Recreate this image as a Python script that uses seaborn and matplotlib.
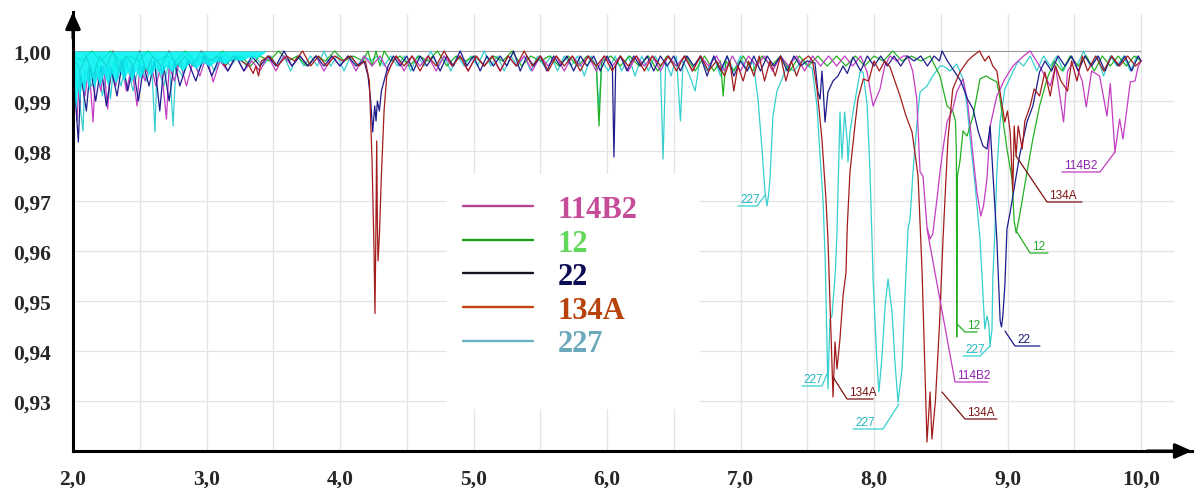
import matplotlib
matplotlib.use("Agg")
import matplotlib.pyplot as plt
import pandas as pd
import seaborn as sns
from matplotlib.lines import Line2D
from matplotlib.patches import Rectangle
from matplotlib.ticker import FuncFormatter, FixedLocator

sns.set_style("white")
plt.rcParams["font.family"] = ["Liberation Serif", "DejaVu Serif"]

# ---- transmittance spectra, (wavelength um, transmittance) ----
r134a = [
    (2.00, 0.999), (2.05, 0.996), (2.10, 0.999), (2.15, 0.995), (2.20, 0.999), (2.25, 0.997),
    (2.30, 1.0), (2.35, 0.996), (2.40, 0.999), (2.45, 0.997), (2.50, 1.0), (2.55, 0.996),
    (2.60, 0.999), (2.66, 0.997), (2.72, 1.0), (2.78, 0.997), (2.84, 0.999), (2.90, 0.997),
    (2.96, 1.0), (3.02, 0.998), (3.08, 0.999), (3.14, 0.997), (3.20, 0.999), (3.26, 0.998),
    (3.32, 0.997), (3.35, 0.9955), (3.37, 0.997), (3.39, 0.995), (3.41, 0.998), (3.47, 0.999),
    (3.53, 0.997), (3.60, 0.999), (3.66, 0.998), (3.72, 1.0), (3.78, 0.997), (3.84, 0.999),
    (3.90, 0.997), (3.96, 0.999), (4.02, 0.998), (4.08, 0.999), (4.14, 0.997), (4.19, 0.998),
    (4.22, 0.994), (4.24, 0.978), (4.255, 0.960), (4.262, 0.9475), (4.268, 0.962), (4.275, 0.982),
    (4.28, 0.965), (4.285, 0.958), (4.295, 0.963), (4.31, 0.975), (4.33, 0.988), (4.35, 0.995),
    (4.38, 0.997), (4.42, 0.999), (4.48, 0.997), (4.54, 0.999), (4.60, 0.996), (4.66, 0.999),
    (4.72, 0.997), (4.78, 1.0), (4.84, 0.997), (4.90, 0.999), (4.96, 0.996), (5.02, 0.999),
    (5.08, 0.997), (5.14, 0.999), (5.20, 0.996), (5.26, 0.999), (5.32, 0.997), (5.38, 1.0),
    (5.44, 0.997), (5.50, 0.999), (5.56, 0.996), (5.62, 0.999), (5.68, 0.997), (5.74, 0.999),
    (5.80, 0.996), (5.86, 0.999), (5.92, 0.997), (5.98, 0.999), (6.04, 0.996), (6.10, 0.999),
    (6.16, 0.997), (6.22, 0.999), (6.28, 0.996), (6.34, 0.999), (6.40, 0.997), (6.46, 0.999),
    (6.52, 0.996), (6.58, 0.999), (6.64, 0.996), (6.70, 0.999), (6.76, 0.996), (6.82, 0.998),
    (6.88, 0.995), (6.92, 0.998), (6.95, 0.992), (6.98, 0.997), (7.02, 0.994), (7.06, 0.998),
    (7.10, 0.995), (7.14, 0.999), (7.18, 0.994), (7.22, 0.998), (7.26, 0.995), (7.30, 0.999),
    (7.34, 0.994), (7.38, 0.998), (7.42, 0.995), (7.46, 0.998), (7.51, 0.999), (7.54, 0.998),
    (7.573, 0.9924), (7.61, 0.9824), (7.64, 0.9704),
    (7.655, 0.9624), (7.693, 0.9308), (7.708, 0.9418), (7.723, 0.9364), (7.745, 0.9424),
    (7.768, 0.951), (7.79, 0.9556), (7.80, 0.965), (7.82, 0.9758), (7.86, 0.9858), (7.88, 0.9904),
    (7.92, 0.9944), (7.96, 0.994), (8.00, 0.998), (8.04, 0.996), (8.08, 0.998), (8.12, 0.9968),
    (8.195, 0.991), (8.24, 0.987), (8.285, 0.9838), (8.33, 0.975), (8.36, 0.956), (8.397, 0.9218),
    (8.42, 0.9318), (8.434, 0.9224), (8.46, 0.930), (8.49, 0.945), (8.517, 0.9624), (8.554, 0.9824),
    (8.59, 0.9924), (8.644, 0.9958), (8.70, 0.998), (8.74, 0.999), (8.79, 1.0), (8.83, 0.998),
    (8.86, 0.999), (8.89, 0.997), (8.92, 0.996), (8.96, 0.989), (8.98, 0.9858), (9.00, 0.988),
    (9.02, 0.9838), (9.04, 0.972), (9.05, 0.985), (9.064, 0.979), (9.08, 0.985), (9.11, 0.9804),
    (9.13, 0.986), (9.17, 0.989), (9.20, 0.9924), (9.24, 0.991), (9.28, 0.9958), (9.32, 0.991),
    (9.36, 0.997), (9.40, 0.994), (9.45, 0.992), (9.48, 0.998), (9.52, 0.994), (9.56, 0.999),
    (9.60, 0.996), (9.66, 0.999), (9.72, 0.996), (9.78, 0.999), (9.84, 0.997), (9.90, 0.999),
    (9.96, 0.997), (10.0, 0.998),
]

r227 = [
    (2.00, 0.999), (2.04, 0.992), (2.075, 0.984), (2.09, 0.996), (2.14, 0.993), (2.18, 0.998),
    (2.22, 0.991), (2.26, 0.997), (2.28, 0.9904), (2.31, 0.998), (2.36, 0.993), (2.40, 0.998),
    (2.45, 0.992), (2.50, 0.998), (2.55, 0.994), (2.59, 0.997), (2.614, 0.9838), (2.63, 0.997),
    (2.68, 0.993), (2.72, 0.998), (2.75, 0.985), (2.77, 0.997), (2.82, 0.995), (2.88, 0.999),
    (2.94, 0.996), (3.00, 0.999), (3.06, 0.996), (3.12, 0.999), (3.18, 0.997), (3.24, 0.999),
    (3.30, 0.997), (3.36, 0.999), (3.42, 0.997), (3.48, 0.999), (3.53, 0.997), (3.58, 0.999),
    (3.63, 0.996), (3.68, 0.999), (3.73, 0.997), (3.78, 0.999), (3.83, 0.997), (3.88, 1.0),
    (3.93, 0.997), (3.98, 0.999), (4.03, 0.996), (4.08, 0.999), (4.13, 0.997), (4.18, 0.999),
    (4.23, 0.998), (4.28, 0.999), (4.33, 0.997), (4.38, 0.999), (4.43, 0.997), (4.48, 0.999),
    (4.53, 0.996), (4.58, 0.999), (4.63, 0.997), (4.68, 1.0), (4.73, 0.997), (4.78, 0.999),
    (4.83, 0.996), (4.88, 0.999), (4.93, 0.997), (4.98, 0.999), (5.03, 0.997), (5.08, 1.0),
    (5.13, 0.997), (5.18, 0.999), (5.23, 0.996), (5.28, 0.999), (5.33, 0.997), (5.38, 0.999),
    (5.43, 0.996), (5.48, 0.999), (5.53, 0.997), (5.58, 0.999), (5.63, 0.996), (5.68, 0.999),
    (5.73, 0.997), (5.78, 0.999), (5.83, 0.995), (5.88, 0.999), (5.92, 0.997), (5.94, 0.988),
    (5.96, 0.998), (6.01, 0.996), (6.06, 0.999), (6.11, 0.996), (6.16, 0.999), (6.21, 0.995),
    (6.26, 0.999), (6.31, 0.996), (6.36, 0.999), (6.40, 0.997), (6.42, 0.9784), (6.44, 0.998),
    (6.48, 0.995), (6.52, 0.999), (6.55, 0.986), (6.57, 0.998), (6.62, 0.995), (6.66, 0.992),
    (6.70, 0.999), (6.75, 0.996), (6.80, 0.999), (6.85, 0.995), (6.90, 0.999), (6.95, 0.996),
    (7.00, 0.999), (7.05, 0.996), (7.094, 0.998), (7.131, 0.9904), (7.161, 0.9804), (7.184, 0.9718),
    (7.199, 0.969), (7.21, 0.9712), (7.221, 0.9744), (7.243, 0.987), (7.273, 0.992), (7.311, 0.9944),
    (7.348, 0.997), (7.40, 0.996), (7.46, 0.998), (7.50, 0.997), (7.536, 0.9966), (7.573, 0.989),
    (7.596, 0.979), (7.618, 0.9704), (7.635, 0.9578), (7.648, 0.941), (7.655, 0.9324), (7.67, 0.9464),
    (7.685, 0.947), (7.71, 0.9556), (7.723, 0.9638), (7.745, 0.9878), (7.76, 0.9784), (7.78, 0.9878),
    (7.80, 0.9818), (7.805, 0.9778), (7.82, 0.9838), (7.843, 0.9878), (7.873, 0.9924), (7.895, 0.9958),
    (7.918, 0.9958), (7.948, 0.9894), (7.97, 0.9758), (7.985, 0.9624), (7.993, 0.9544), (8.022, 0.9378),
    (8.037, 0.9318), (8.06, 0.939), (8.083, 0.949), (8.105, 0.9544), (8.135, 0.9478), (8.157, 0.9378),
    (8.18, 0.9298), (8.21, 0.9364), (8.232, 0.951), (8.255, 0.9644), (8.27, 0.9664), (8.292, 0.9758),
    (8.322, 0.9858), (8.345, 0.9918), (8.397, 0.993), (8.44, 0.995), (8.494, 0.997), (8.52, 0.997),
    (8.57, 0.996), (8.62, 0.9974), (8.667, 0.9944), (8.697, 0.989), (8.72, 0.9824), (8.76, 0.9724),
    (8.794, 0.9624), (8.83, 0.9444), (8.846, 0.947), (8.86, 0.9455), (8.869, 0.941), (8.884, 0.9444),
    (8.89, 0.9544), (8.906, 0.9644), (8.92, 0.9758), (8.944, 0.9858), (8.98, 0.9924), (9.04, 0.9958),
    (9.08, 0.998), (9.12, 0.997), (9.17, 0.999), (9.22, 0.996), (9.27, 0.999), (9.32, 0.997),
    (9.37, 0.999), (9.42, 0.996), (9.47, 0.999), (9.52, 0.997), (9.57, 1.0), (9.62, 0.997),
    (9.67, 0.999), (9.72, 0.995), (9.77, 0.999), (9.82, 0.997), (9.87, 0.999), (9.92, 0.996),
    (9.97, 0.999), (10.0, 0.998),
]

# dense fine structure of R227 in the overtone region, lower envelope
r227_band = [
    (2.00, 0.986), (2.01, 0.991), (2.02, 0.988), (2.035, 0.9925), (2.05, 0.990), (2.065, 0.994),
    (2.08, 0.9915), (2.10, 0.9945), (2.12, 0.992), (2.14, 0.995), (2.16, 0.9925), (2.18, 0.9948),
    (2.20, 0.993), (2.23, 0.9955), (2.26, 0.9932), (2.29, 0.9955), (2.32, 0.9935), (2.35, 0.996),
    (2.38, 0.994), (2.41, 0.996), (2.44, 0.9938), (2.47, 0.9962), (2.50, 0.9945), (2.54, 0.9965),
    (2.58, 0.995), (2.62, 0.9968), (2.66, 0.9952), (2.70, 0.997), (2.74, 0.9958), (2.78, 0.9973),
    (2.82, 0.996), (2.87, 0.9976), (2.92, 0.9965), (2.97, 0.9978), (3.02, 0.997), (3.08, 0.998),
    (3.14, 0.9974), (3.20, 0.9984), (3.26, 0.998), (3.32, 0.9988), (3.38, 0.9986), (3.45, 1.0),
]

r22 = [
    (2.00, 0.998), (2.02, 0.990), (2.04, 0.9818), (2.06, 0.995), (2.10, 0.988), (2.13, 0.997),
    (2.17, 0.990), (2.21, 0.997), (2.25, 0.989), (2.29, 0.996), (2.33, 0.991), (2.37, 0.998),
    (2.41, 0.992), (2.45, 0.997), (2.49, 0.990), (2.53, 0.997), (2.57, 0.993), (2.61, 0.998),
    (2.65, 0.988), (2.68, 0.997), (2.72, 0.990), (2.76, 0.998), (2.80, 0.993), (2.86, 0.998),
    (2.92, 0.994), (2.98, 0.999), (3.04, 0.995), (3.10, 0.999), (3.16, 0.996), (3.22, 0.999),
    (3.28, 0.996), (3.34, 0.999), (3.40, 0.997), (3.46, 0.999), (3.52, 0.997), (3.58, 1.0),
    (3.64, 0.997), (3.70, 0.999), (3.76, 0.997), (3.82, 0.999), (3.88, 0.997), (3.94, 0.999),
    (4.00, 0.997), (4.06, 0.999), (4.12, 0.997), (4.18, 0.998), (4.21, 0.995), (4.23, 0.990),
    (4.245, 0.9838), (4.26, 0.989), (4.27, 0.986), (4.28, 0.990), (4.295, 0.988), (4.31, 0.992),
    (4.33, 0.994), (4.36, 0.997), (4.40, 0.999), (4.45, 0.997), (4.50, 0.999), (4.55, 0.996),
    (4.60, 0.999), (4.65, 0.997), (4.70, 0.999), (4.75, 0.996), (4.80, 0.999), (4.85, 0.997),
    (4.90, 1.0), (4.95, 0.997), (5.00, 0.999), (5.05, 0.996), (5.10, 0.999), (5.15, 0.997),
    (5.20, 0.999), (5.25, 0.997), (5.30, 1.0), (5.35, 0.996), (5.40, 0.999), (5.45, 0.997),
    (5.50, 0.999), (5.55, 0.996), (5.60, 0.999), (5.65, 0.997), (5.70, 0.999), (5.75, 0.996),
    (5.80, 0.999), (5.85, 0.997), (5.90, 0.999), (5.95, 0.996), (6.00, 0.999), (6.04, 0.997),
    (6.052, 0.9788), (6.065, 0.997), (6.10, 0.999), (6.15, 0.996), (6.20, 0.999), (6.25, 0.997),
    (6.30, 0.999), (6.35, 0.996), (6.40, 0.999), (6.45, 0.997), (6.50, 0.999), (6.55, 0.996),
    (6.60, 0.999), (6.65, 0.997), (6.70, 0.999), (6.75, 0.995), (6.80, 0.999), (6.85, 0.996),
    (6.90, 0.999), (6.95, 0.995), (7.00, 0.998), (7.05, 0.996), (7.10, 0.999), (7.15, 0.996),
    (7.20, 0.999), (7.25, 0.997), (7.30, 0.999), (7.35, 0.996), (7.40, 0.999), (7.45, 0.997),
    (7.50, 0.998), (7.558, 0.9976), (7.58, 0.9918), (7.596, 0.9904), (7.61, 0.996), (7.618, 0.993),
    (7.633, 0.9858), (7.655, 0.9918), (7.693, 0.994), (7.73, 0.995), (7.768, 0.997), (7.80, 0.9955),
    (7.843, 0.9988), (7.90, 0.996), (7.95, 0.999), (8.00, 0.997), (8.05, 0.999), (8.10, 0.997),
    (8.15, 0.999), (8.20, 0.997), (8.25, 0.999), (8.30, 0.998), (8.35, 0.999), (8.40, 0.997),
    (8.45, 0.999), (8.49, 0.998), (8.51, 1.0), (8.55, 0.998), (8.60, 0.996), (8.65, 0.994),
    (8.70, 0.9904), (8.742, 0.9884), (8.78, 0.984), (8.816, 0.981), (8.846, 0.9804), (8.87, 0.985),
    (8.89, 0.9758), (8.92, 0.9624), (8.945, 0.946), (8.955, 0.9448), (8.965, 0.947), (8.98, 0.953),
    (8.996, 0.9644), (9.02, 0.9678), (9.09, 0.979), (9.146, 0.9858), (9.19, 0.989), (9.24, 0.9958),
    (9.28, 0.998), (9.33, 0.996), (9.38, 0.999), (9.43, 0.997), (9.48, 0.999), (9.53, 0.996),
    (9.58, 0.999), (9.63, 0.997), (9.68, 0.999), (9.73, 0.996), (9.78, 0.999), (9.83, 0.997),
    (9.88, 0.999), (9.93, 0.996), (9.98, 0.999), (10.0, 0.998),
]

r12 = [
    (2.00, 0.999), (2.07, 0.998), (2.14, 1.0), (2.21, 0.998), (2.28, 1.0), (2.35, 0.998),
    (2.42, 0.999), (2.49, 0.998), (2.56, 1.0), (2.63, 0.998), (2.70, 0.999), (2.77, 0.998),
    (2.84, 1.0), (2.91, 0.998), (2.98, 0.999), (3.05, 0.998), (3.12, 1.0), (3.19, 0.998),
    (3.26, 0.999), (3.33, 0.997), (3.40, 0.999), (3.47, 0.998), (3.54, 1.0), (3.61, 0.998),
    (3.68, 0.999), (3.75, 0.997), (3.82, 0.999), (3.89, 0.998), (3.96, 1.0), (4.03, 0.998),
    (4.10, 0.999), (4.17, 0.998), (4.21, 1.0), (4.24, 0.997), (4.27, 1.0), (4.30, 0.997),
    (4.33, 1.0), (4.38, 0.998), (4.45, 0.999), (4.52, 0.997), (4.59, 0.999), (4.66, 0.998),
    (4.73, 1.0), (4.80, 0.997), (4.87, 0.999), (4.94, 0.998), (5.01, 0.999), (5.08, 0.997),
    (5.15, 0.999), (5.22, 0.998), (5.29, 1.0), (5.36, 0.997), (5.43, 0.999), (5.50, 0.998),
    (5.57, 0.999), (5.64, 0.997), (5.71, 0.999), (5.78, 0.997), (5.85, 0.999), (5.92, 0.997),
    (5.94, 0.985), (5.96, 0.998), (6.03, 0.999), (6.10, 0.997), (6.17, 0.999), (6.24, 0.997),
    (6.31, 0.999), (6.38, 0.996), (6.45, 0.999), (6.52, 0.997), (6.59, 0.999), (6.66, 0.996),
    (6.73, 0.999), (6.80, 0.996), (6.85, 0.998), (6.87, 0.991), (6.89, 0.998), (6.95, 0.996),
    (7.02, 0.999), (7.09, 0.996), (7.16, 0.999), (7.23, 0.997), (7.30, 0.999), (7.37, 0.996),
    (7.44, 0.999), (7.51, 0.997), (7.58, 0.999), (7.65, 0.997), (7.72, 0.999), (7.79, 0.997),
    (7.86, 0.999), (7.93, 0.997), (8.00, 0.999), (8.07, 0.998), (8.14, 1.0), (8.21, 0.998),
    (8.28, 0.999), (8.35, 0.998), (8.42, 0.999), (8.494, 0.995), (8.547, 0.989), (8.59, 0.988),
    (8.61, 0.986), (8.617, 0.980), (8.62, 0.9428), (8.625, 0.975), (8.644, 0.978), (8.667, 0.984),
    (8.697, 0.983), (8.742, 0.987), (8.794, 0.9944), (8.84, 0.995), (8.87, 0.9945), (8.92, 0.9938),
    (8.944, 0.9904), (8.996, 0.9804), (9.034, 0.9744), (9.05, 0.966), (9.065, 0.9636), (9.09, 0.967),
    (9.146, 0.9758), (9.19, 0.9824), (9.24, 0.989), (9.296, 0.9944), (9.35, 0.998), (9.41, 0.996),
    (9.47, 0.999), (9.53, 0.997), (9.59, 0.999), (9.65, 0.996), (9.71, 0.999), (9.77, 0.997),
    (9.83, 0.999), (9.89, 0.997), (9.95, 0.999), (10.0, 0.998),
]

r114b2 = [
    (2.00, 0.999), (2.03, 0.986), (2.05, 0.996), (2.09, 0.991), (2.12, 0.997), (2.15, 0.9858),
    (2.17, 0.996), (2.21, 0.992), (2.23, 0.997), (2.26, 0.9884), (2.28, 0.997), (2.32, 0.993),
    (2.36, 0.998), (2.40, 0.992), (2.44, 0.997), (2.48, 0.989), (2.50, 0.997), (2.54, 0.994),
    (2.58, 0.998), (2.62, 0.993), (2.66, 0.997), (2.70, 0.9864), (2.72, 0.997), (2.76, 0.994),
    (2.80, 0.998), (2.85, 0.993), (2.90, 0.998), (2.95, 0.995), (3.00, 0.999), (3.05, 0.9938),
    (3.10, 0.998), (3.16, 0.996), (3.22, 0.999), (3.28, 0.996), (3.34, 0.998), (3.40, 0.996),
    (3.46, 0.999), (3.52, 0.996), (3.58, 0.999), (3.64, 0.997), (3.70, 0.999), (3.76, 0.997),
    (3.82, 0.999), (3.88, 0.996), (3.94, 0.999), (4.00, 0.997), (4.06, 0.999), (4.12, 0.996),
    (4.18, 0.999), (4.24, 0.997), (4.30, 0.999), (4.36, 0.996), (4.42, 0.999), (4.48, 0.996),
    (4.54, 0.999), (4.60, 0.997), (4.66, 0.999), (4.72, 0.996), (4.78, 0.999), (4.84, 0.997),
    (4.90, 0.999), (4.96, 0.996), (5.02, 0.999), (5.08, 0.997), (5.14, 0.999), (5.20, 0.996),
    (5.26, 0.999), (5.32, 0.997), (5.38, 0.999), (5.44, 0.996), (5.50, 0.999), (5.56, 0.997),
    (5.62, 0.999), (5.68, 0.996), (5.74, 0.999), (5.80, 0.997), (5.86, 0.999), (5.92, 0.996),
    (5.98, 0.999), (6.04, 0.997), (6.10, 0.999), (6.16, 0.996), (6.22, 0.999), (6.28, 0.997),
    (6.34, 0.999), (6.40, 0.996), (6.46, 0.999), (6.52, 0.997), (6.58, 0.999), (6.64, 0.996),
    (6.70, 0.999), (6.76, 0.997), (6.82, 0.999), (6.88, 0.996), (6.94, 0.999), (7.00, 0.996),
    (7.06, 0.999), (7.12, 0.997), (7.18, 0.999), (7.24, 0.996), (7.30, 0.999), (7.36, 0.997),
    (7.42, 0.999), (7.48, 0.996), (7.54, 0.999), (7.60, 0.997), (7.66, 0.999), (7.72, 0.997),
    (7.78, 0.999), (7.84, 0.997), (7.90, 0.999), (7.948, 0.9958), (7.993, 0.989), (8.045, 0.9924),
    (8.08, 0.997), (8.12, 0.999), (8.17, 0.998), (8.22, 0.999), (8.25, 0.999), (8.29, 0.996),
    (8.32, 0.9904), (8.345, 0.9758), (8.367, 0.975), (8.397, 0.9648), (8.42, 0.9624), (8.44, 0.9634),
    (8.47, 0.970), (8.494, 0.9758), (8.52, 0.981), (8.547, 0.9858), (8.59, 0.9884), (8.62, 0.9918),
    (8.667, 0.9944), (8.70, 0.990), (8.72, 0.985), (8.742, 0.979), (8.77, 0.972), (8.80, 0.967),
    (8.82, 0.969), (8.846, 0.9744), (8.87, 0.985), (8.92, 0.991), (8.98, 0.9944), (9.04, 0.997),
    (9.12, 0.999), (9.17, 1.0), (9.24, 0.997), (9.32, 0.993), (9.36, 0.997), (9.42, 0.9858),
    (9.45, 0.996), (9.50, 0.998), (9.56, 0.994), (9.59, 0.9888), (9.63, 0.996), (9.69, 0.995),
    (9.745, 0.987), (9.77, 0.9935), (9.805, 0.9798), (9.84, 0.9864), (9.865, 0.9824), (9.92, 0.9938),
    (9.955, 0.994), (9.98, 0.997), (10.0, 0.998),
]

legend_names = ["114B2", "12", "22", "134A", "227"]
x_ticks = [2, 3, 4, 5, 6, 7, 8, 9, 10]
y_ticks = [0.93, 0.94, 0.95, 0.96, 0.97, 0.98, 0.99, 1.00]

# ---- styling ----
line_colors = {"114B2": "#c33cc3", "12": "#22b022", "22": "#1c1c8c",
               "134A": "#a31c1c", "227": "#36cfcf"}
legend_line_colors = ["#b4428e", "#18a018", "#141420", "#c0420e", "#6ab2c2"]
legend_text_colors = ["#c64c9a", "#62d85a", "#0c0c55", "#b8430c", "#6ca8bb"]
label_colors = {"114B2": "#8d24ad", "12": "#28a828", "22": "#1a1a7a",
                "134A": "#7c1212", "227": "#22b8c0"}

series = {"227": r227, "12": r12, "114B2": r114b2, "22": r22, "134A": r134a}
rows = [(name, x, y) for name, pts in series.items() for x, y in pts]
df = pd.DataFrame(rows, columns=["refrigerant", "wavelength", "transmittance"])

fig = plt.figure(figsize=(11.94, 4.89), dpi=100)
ax = fig.add_axes([73 / 1194, 37 / 489, 1119 / 1194, 439 / 489])
x_lo, x_hi = 2.0, 10.382
y_lo, y_hi = 0.92, 1.0078
ax.set_xlim(x_lo, x_hi)
ax.set_ylim(y_lo, y_hi)

# grid
for gx in [2.5, 3.0, 3.5, 4.0, 4.5, 5.0, 5.5, 6.0, 6.5, 7.0, 7.5, 8.0, 8.5, 9.0, 9.5, 10.0]:
    ax.vlines(gx, y_lo, 1.0074, color="#e3e3e3", lw=0.9, zorder=0.5)
for gy in y_ticks[:-1]:
    ax.hlines(gy, x_lo, 10.25, color="#e3e3e3", lw=0.9, zorder=0.5)
ax.hlines(1.0, x_lo, 10.0, color="#9a9a9a", lw=0.8, zorder=0.6)

# white panel behind the legend
ax.add_patch(Rectangle((4.8, 0.9284), 1.9, 0.047, facecolor="white",
                       edgecolor="none", zorder=0.8))

sns.lineplot(data=df, x="wavelength", y="transmittance", hue="refrigerant",
             hue_order=list(series.keys()), palette=line_colors,
             estimator=None, sort=False, linewidth=0.9, legend=False, ax=ax, zorder=2)

# dense R227 structure drawn over the other traces
bx = [p[0] for p in r227_band]
by = [p[1] for p in r227_band]
ax.fill_between(bx, by, [1.0] * len(bx), color="#00f2f2", alpha=0.88, lw=0, zorder=2.5)

# callouts: label, anchor -> elbow -> end of underline
callouts = [
    ("227", [(7.184, 0.9712), (7.124, 0.969), (6.981, 0.969)]),
    ("227", [(7.648, 0.9354), (7.61, 0.933), (7.46, 0.933)]),
    ("134A", [(7.693, 0.9348), (7.798, 0.9304), (7.993, 0.9304)]),
    ("227", [(8.187, 0.9294), (8.067, 0.9244), (7.843, 0.9244)]),
    ("134A", [(8.509, 0.9318), (8.682, 0.9264), (8.921, 0.9264)]),
    ("114B2", [(8.397, 0.9644), (8.607, 0.9338), (8.854, 0.9338)]),
    ("12", [(8.622, 0.9454), (8.682, 0.9438), (8.772, 0.9438)]),
    ("227", [(8.869, 0.941), (8.794, 0.939), (8.667, 0.939)]),
    ("22", [(8.981, 0.944), (9.056, 0.941), (9.243, 0.941)]),
    ("12", [(9.071, 0.9638), (9.169, 0.9596), (9.303, 0.9596)]),
    ("134A", [(9.064, 0.979), (9.296, 0.9698), (9.558, 0.9698)]),
    ("114B2", [(9.805, 0.9798), (9.693, 0.9758), (9.408, 0.9758)]),
]
for name, pts in callouts:
    xs = [p[0] for p in pts]
    ys = [p[1] for p in pts]
    ax.plot(xs, ys, color=line_colors[name] if name != "134A" else "#7c1212",
            lw=0.9, zorder=3)
    tx = min(xs[1], xs[2]) + 0.015
    ax.text(tx, ys[1] + 0.0003, name, color=label_colors[name], fontsize=8.5,
            family=["Liberation Sans", "DejaVu Sans"], ha="left", va="bottom", zorder=4)

# legend
handles = [Line2D([], [], color=c, lw=1.7) for c in legend_line_colors]
leg = ax.legend(handles, legend_names, loc="upper left",
                bbox_to_anchor=(463 / 1194, 1 - 196 / 489), bbox_transform=fig.transFigure,
                frameon=False, prop={"family": "Liberation Serif", "weight": "bold", "size": 22},
                handlelength=2.3, handletextpad=0.8, labelspacing=0.15,
                borderpad=0, borderaxespad=0)
for t, c in zip(leg.get_texts(), legend_text_colors):
    t.set_color(c)

# axes, ticks and arrows
for side in ["top", "right"]:
    ax.spines[side].set_visible(False)
for side in ["left", "bottom"]:
    ax.spines[side].set_linewidth(2.2)
    ax.spines[side].set_color("black")
ax.xaxis.set_major_locator(FixedLocator(x_ticks))
ax.yaxis.set_major_locator(FixedLocator(y_ticks))
ax.xaxis.set_major_formatter(FuncFormatter(lambda v, p: f"{v:.1f}".replace(".", ",")))
ax.yaxis.set_major_formatter(FuncFormatter(lambda v, p: f"{v:.2f}".replace(".", ",")))
ax.tick_params(axis="y", direction="out", length=11, width=2.2, pad=5, labelsize=15.5)
ax.tick_params(axis="x", direction="out", length=8, width=2.2, pad=5, labelsize=15.5)
for lab in ax.get_xticklabels() + ax.get_yticklabels():
    lab.set_fontweight("bold")
    lab.set_family(["Liberation Serif", "DejaVu Serif"])
ax.set_xlabel("")
ax.set_ylabel("")
ax.grid(False)

arrow = dict(arrowstyle="-|>,head_length=1.0,head_width=0.45", color="black",
             lw=2.2, shrinkA=0, shrinkB=0)
ax.annotate("", xy=(0, 1), xycoords="axes fraction", xytext=(0, 0.94),
            arrowprops=arrow, annotation_clip=False)
ax.annotate("", xy=(1, 0), xycoords="axes fraction", xytext=(0.96, 0),
            arrowprops=arrow, annotation_clip=False)

fig.savefig("out.png", dpi=100)
